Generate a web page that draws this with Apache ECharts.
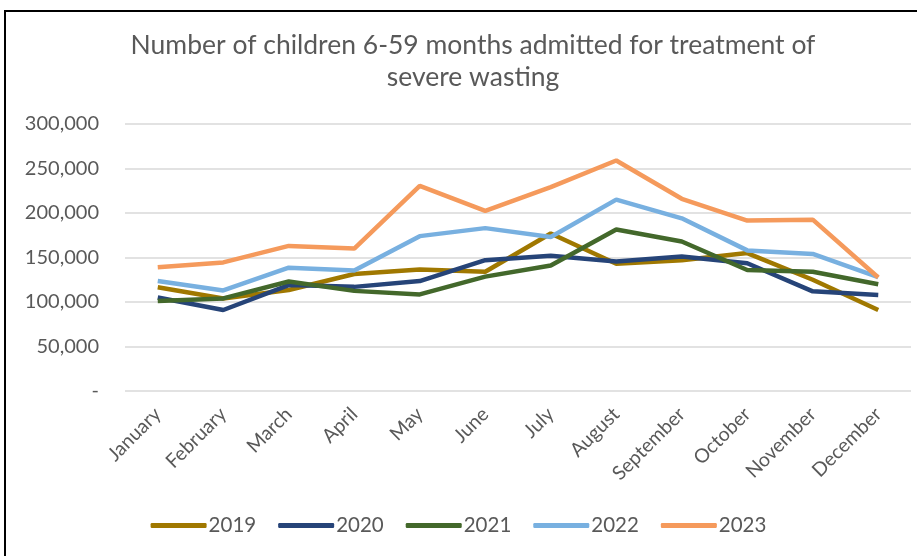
<!DOCTYPE html>
<html>
<head>
<meta charset="utf-8">
<script src="https://cdn.jsdelivr.net/npm/echarts@6/dist/echarts.min.js"></script>
<style>
    html, body {
        margin: 0;
        padding: 0;
        background: #fff;
    }
    #frame {
        position: absolute;
        left: 4px;
        top: 10px;
        width: 913px;
        height: 546px;
        border-top: 2px solid #000;
        border-left: 2px solid #000;
        box-sizing: border-box;
    }
    #main {
        position: absolute;
        left: 0;
        top: 0;
        width: 917px;
        height: 556px;
    }
</style>
</head>
<body>
<div id="frame"></div>
<div id="main"></div>
<script>
// months on the x axis
const months = ['January', 'February', 'March', 'April', 'May', 'June', 'July',
    'August', 'September', 'October', 'November', 'December'];

// admissions per month
const y2019 = [116500, 104000, 113500, 131500, 136500, 134000, 177000, 143000, 147000, 155000, 125000, 91000];
const y2020 = [105000, 91000, 119000, 117000, 123500, 147000, 152000, 145500, 151000, 143500, 112000, 108000];
const y2021 = [101000, 104000, 123000, 112500, 108500, 128500, 141000, 181500, 168000, 136000, 134000, 120000];
const y2022 = [123500, 113000, 138500, 135500, 174000, 183000, 173000, 215000, 194000, 158000, 154000, 128000];
const y2023 = [139000, 144500, 163000, 160000, 230500, 202500, 229000, 259000, 216000, 191500, 192500, 127500];

const seriesNames = ['2019', '2020', '2021', '2022', '2023'];
const seriesData = [y2019, y2020, y2021, y2022, y2023];
const colors = ['#a07800', '#264478', '#43682b', '#78b0e0', '#f59a5c'];

const font = 'Lato, "Open Sans", sans-serif';
const textColor = '#595959';

let chart = echarts.init(document.getElementById('main'), null, { renderer: 'canvas' });

let option = {
    animation: false,
    color: colors,
    title: {
        text: 'Number of children 6-59 months admitted for treatment of\nsevere wasting',
        left: 468,
        top: 24,
        textAlign: 'center',
        textStyle: {
            fontFamily: font,
            fontWeight: 'normal',
            fontSize: 26.5,
            lineHeight: 32,
            color: textColor,
        },
    },
    legend: {
        data: seriesNames,
        bottom: 15,
        left: 'center',
        icon: 'roundRect',
        itemWidth: 56,
        itemHeight: 5,
        itemGap: 22,
        textStyle: {
            fontFamily: font,
            fontSize: 20.5,
            color: textColor,
            padding: [0, 0, 0, -3],
        },
    },
    grid: {
        left: 125,
        right: 6,
        top: 124,
        bottom: 165,
    },
    xAxis: {
        type: 'category',
        data: months,
        boundaryGap: true,
        axisLine: { show: false },
        axisTick: { show: false },
        axisLabel: {
            rotate: 45,
            margin: 20,
            fontFamily: font,
            fontSize: 19.5,
            color: textColor,
            interval: 0,
        },
    },
    yAxis: {
        type: 'value',
        min: 0,
        max: 300000,
        interval: 50000,
        axisLine: { show: false },
        axisTick: { show: false },
        axisLabel: {
            margin: 26,
            fontFamily: font,
            fontSize: 20,
            color: textColor,
            formatter: function (v) {
                return v === 0 ? '-' : v.toLocaleString('en-US');
            },
        },
        splitLine: {
            lineStyle: { color: '#d9d9d9', width: 1.5 },
        },
    },
    series: seriesNames.map((name, i) => ({
        name: name,
        type: 'line',
        data: seriesData[i],
        symbol: 'none',
        lineStyle: { width: 4.5, color: colors[i] },
        itemStyle: { color: colors[i] },
    })),
};

chart.setOption(option);
</script>
</body>
</html>
